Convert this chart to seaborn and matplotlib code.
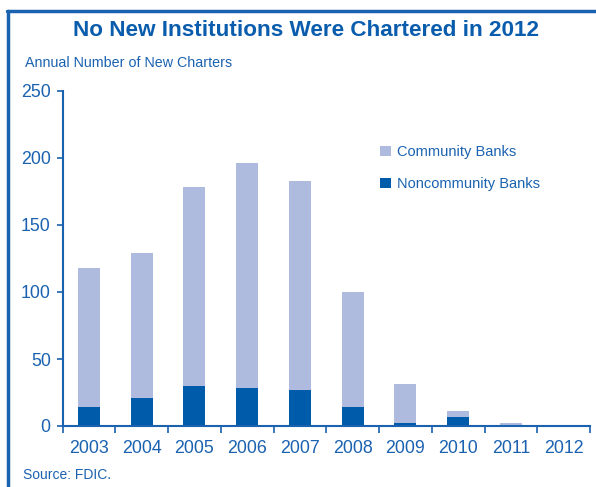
import matplotlib
matplotlib.use("Agg")
import matplotlib.pyplot as plt
import seaborn as sns
import pandas as pd
from matplotlib.patches import Patch
from matplotlib.lines import Line2D

years = ["2003", "2004", "2005", "2006", "2007", "2008", "2009", "2010", "2011", "2012"]
community = [104, 108, 148, 168, 156, 86, 29, 4, 2, 0]
noncommunity = [14, 21, 30, 28, 27, 14, 2, 7, 0, 0]
totals = [c + n for c, n in zip(community, noncommunity)]

df = pd.DataFrame({"year": years, "community": community,
                   "noncommunity": noncommunity, "total": totals})

sns.set_style("white")
FONT = ["Liberation Sans", "DejaVu Sans"]
plt.rcParams["font.family"] = FONT

BLUE = "#1a62b0"
DARK = "#005BAA"
LIGHT = "#AEBBDF"

W, H = 596, 487
fig = plt.figure(figsize=(W / 100, H / 100), dpi=100)
ax = fig.add_axes([62.5 / W, 1 - 426 / H, (590 - 62.5) / W, (426 - 91) / H])

sns.barplot(data=df, x="year", y="total", color=LIGHT, width=0.42,
            saturation=1, ax=ax, linewidth=0)
sns.barplot(data=df, x="year", y="noncommunity", color=DARK, width=0.42,
            saturation=1, ax=ax, linewidth=0)

ax.set_xlim(-0.5, len(years) - 0.5)
ax.set_ylim(0, 250)
ax.set_xlabel("")
ax.set_ylabel("")
for s in ["top", "right"]:
    ax.spines[s].set_visible(False)
for s in ["left", "bottom"]:
    ax.spines[s].set_color(BLUE)
    ax.spines[s].set_linewidth(1.5)

ax.set_yticks([0, 50, 100, 150, 200, 250])
ax.tick_params(axis="y", left=True, direction="out", length=4.5, width=1.2,
               color=BLUE, labelcolor=BLUE, labelsize=12.8, pad=4)
ax.set_xticks(range(len(years)))
ax.set_xticklabels(years)
ax.set_xticks([i - 0.5 for i in range(len(years) + 1)], minor=True)
ax.tick_params(axis="x", which="major", bottom=True, length=0, labelcolor=BLUE,
               labelsize=12.8, pad=10)
ax.tick_params(axis="x", which="minor", bottom=True, direction="out", length=5,
               width=1.2, color=BLUE)

handles = [Patch(facecolor=LIGHT, edgecolor="none", label="Community Banks"),
           Patch(facecolor=DARK, edgecolor="none", label="Noncommunity Banks")]
leg = fig.legend(handles=handles, loc="upper left",
                 bbox_to_anchor=(380 / W, 1 - 145 / H), frameon=False,
                 fontsize=10.5, handlelength=0.75, handleheight=0.75,
                 handletextpad=0.4, labelspacing=1.25, borderpad=0,
                 borderaxespad=0)
for t in leg.get_texts():
    t.set_color(BLUE)

fig.text(306 / W, 1 - 31 / H, "No New Institutions Were Chartered in 2012",
         ha="center", va="center", fontsize=16.2, fontweight="bold", color="#0a5cad")
fig.text(25 / W, 1 - 63 / H, "Annual Number of New Charters",
         ha="left", va="center", fontsize=10.3, color=BLUE)
fig.text(23 / W, 1 - 475 / H, "Source: FDIC.",
         ha="left", va="center", fontsize=10, color=BLUE)

fig.add_artist(Line2D([8 / W, 8 / W], [0, 1 - 11 / H], transform=fig.transFigure,
                      color=BLUE, linewidth=2.5))
fig.add_artist(Line2D([7 / W, 1], [1 - 11 / H, 1 - 11 / H], transform=fig.transFigure,
                      color=BLUE, linewidth=2.5))

fig.savefig("out.png", dpi=100)
